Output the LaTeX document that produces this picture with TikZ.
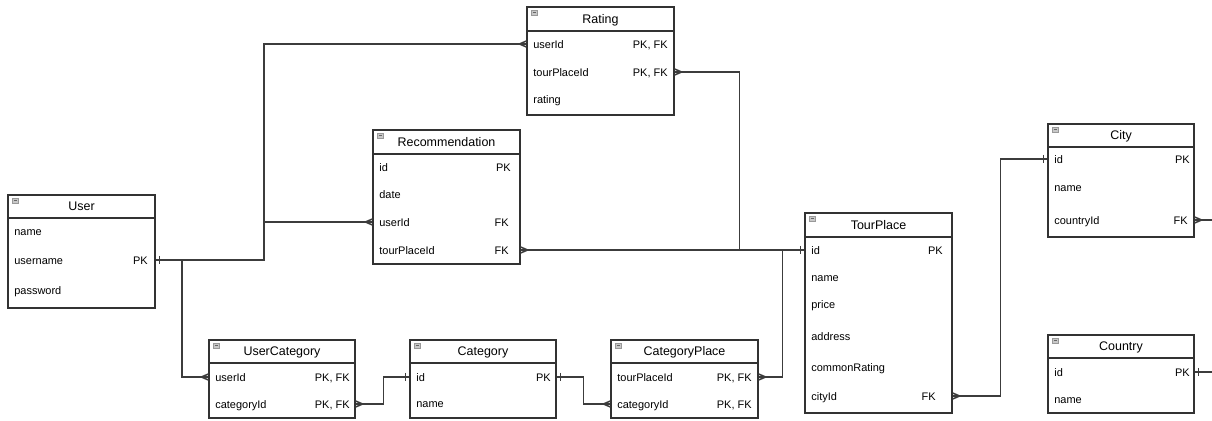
\documentclass[tikz,border=0pt]{standalone}
\usepackage{fontspec}
\setmainfont{Liberation Sans}
\usetikzlibrary{positioning,fit,calc}
\definecolor{erLine}{RGB}{60,60,60}
\definecolor{erBorder}{RGB}{50,50,50}
\definecolor{erIcon}{RGB}{200,200,200}

\begin{document}
\begin{tikzpicture}[
    x=0.02cm, y=-0.02cm,
    tbl/.style={rectangle, draw=erBorder, line width=0.7pt, fill=white, inner sep=0pt},
    head/.style={rectangle, draw=erBorder, line width=0.7pt, inner sep=0pt},
    title/.style={inner sep=0pt, text height=5.2pt, text depth=0.2pt, font=\fontsize{7.1pt}{8pt}\selectfont},
    fld/.style={anchor=west, inner sep=0pt, text height=5.2pt, text depth=0.4pt, font=\fontsize{6.24pt}{7pt}\selectfont},
    key/.style={fld, anchor=east},
    icon/.style={rectangle, draw=gray!80, fill=erIcon, line width=0.3pt, minimum width=0.12cm, minimum height=0.1cm, inner sep=0pt,
        path picture={\draw[black!60, line width=0.4pt] ([xshift=0.7pt]path picture bounding box.west) -- ([xshift=-0.7pt]path picture bounding box.east);}},
    link/.style={draw=erLine, line width=0.85pt},
    crowW/.pic={\draw[link] (-7,0) -- (0,-3) (-7,0) -- (0,3);},
    crowE/.pic={\draw[link] (7,0) -- (0,-3) (7,0) -- (0,3);},
    oneW/.pic={\draw[link] (-4,-4) -- (-4,4);},
    oneE/.pic={\draw[link] (4,-4) -- (4,4);}
]
\useasboundingbox[fill=white] (0,0) rectangle (1212,421);

% User
\node[tbl, fit={(8,195) (155,308)}] (user) {};
\node[head, fit={(8,195) (155,218)}] (user-head) {};
\node[title] (user-title) at (user-head) {User};
\node[icon] (user-icon) at ($(user.north west)+(8,6)$) {};
\node[fld] (user-name) at (14,231) {name};
\node[fld] (user-username) at (14,260) {username};
\node[key] (user-username-k) at (148,260) {PK};
\node[fld] (user-password) at (14,290) {password};

% Rating
\node[tbl, fit={(527,7) (674,115)}] (rating) {};
\node[head, fit={(527,7) (674,31)}] (rating-head) {};
\node[title] (rating-title) at (rating-head) {Rating};
\node[icon] (rating-icon) at ($(rating.north west)+(8,6)$) {};
\node[fld] (rating-userid) at (533,44) {userId};
\node[key] (rating-userid-k) at (668,44) {PK, FK};
\node[fld] (rating-tourplaceid) at (533,72) {tourPlaceId};
\node[key] (rating-tourplaceid-k) at (668,72) {PK, FK};
\node[fld] (rating-rating) at (533,99) {rating};

% Recommendation
\node[tbl, fit={(373,130) (520,264)}] (rec) {};
\node[head, fit={(373,130) (520,154)}] (rec-head) {};
\node[title] (rec-title) at (rec-head) {Recommendation};
\node[icon] (rec-icon) at ($(rec.north west)+(8,6)$) {};
\node[fld] (rec-id) at (379,167) {id};
\node[key] (rec-id-k) at (511,167) {PK};
\node[fld] (rec-date) at (379,194) {date};
\node[fld] (rec-userid) at (379,222) {userId};
\node[key] (rec-userid-k) at (509,222) {FK};
\node[fld] (rec-tourplaceid) at (379,250) {tourPlaceId};
\node[key] (rec-tourplaceid-k) at (509,250) {FK};

% TourPlace
\node[tbl, fit={(805,213) (952,413)}] (tp) {};
\node[head, fit={(805,213) (952,237)}] (tp-head) {};
\node[title] (tp-title) at (tp-head) {TourPlace};
\node[icon] (tp-icon) at ($(tp.north west)+(8,6)$) {};
\node[fld] (tp-id) at (811,250) {id};
\node[key] (tp-id-k) at (943,250) {PK};
\node[fld] (tp-name) at (811,277) {name};
\node[fld] (tp-price) at (811,304) {price};
\node[fld] (tp-address) at (811,336) {address};
\node[fld] (tp-commonrating) at (811,367) {commonRating};
\node[fld] (tp-cityid) at (811,396) {cityId};
\node[key] (tp-cityid-k) at (936,396) {FK};

% City
\node[tbl, fit={(1048,124) (1194,237)}] (city) {};
\node[head, fit={(1048,124) (1194,147)}] (city-head) {};
\node[title] (city-title) at (city-head) {City};
\node[icon] (city-icon) at ($(city.north west)+(8,6)$) {};
\node[fld] (city-id) at (1054,159) {id};
\node[key] (city-id-k) at (1190,159) {PK};
\node[fld] (city-name) at (1054,187) {name};
\node[fld] (city-countryid) at (1054,220) {countryId};
\node[key] (city-countryid-k) at (1188,220) {FK};

% Country
\node[tbl, fit={(1048,335) (1194,413)}] (country) {};
\node[head, fit={(1048,335) (1194,358)}] (country-head) {};
\node[title] (country-title) at (country-head) {Country};
\node[icon] (country-icon) at ($(country.north west)+(8,6)$) {};
\node[fld] (country-id) at (1054,372) {id};
\node[key] (country-id-k) at (1190,372) {PK};
\node[fld] (country-name) at (1054,399) {name};

% UserCategory
\node[tbl, fit={(209,340) (355,418)}] (uc) {};
\node[head, fit={(209,340) (355,363)}] (uc-head) {};
\node[title] (uc-title) at (uc-head) {UserCategory};
\node[icon] (uc-icon) at ($(uc.north west)+(8,6)$) {};
\node[fld] (uc-userid) at (215,377) {userId};
\node[key] (uc-userid-k) at (350,377) {PK, FK};
\node[fld] (uc-categoryid) at (215,404) {categoryId};
\node[key] (uc-categoryid-k) at (350,404) {PK, FK};

% Category
\node[tbl, fit={(410,340) (556,418)}] (cat) {};
\node[head, fit={(410,340) (556,363)}] (cat-head) {};
\node[title] (cat-title) at (cat-head) {Category};
\node[icon] (cat-icon) at ($(cat.north west)+(8,6)$) {};
\node[fld] (cat-id) at (416,377) {id};
\node[key] (cat-id-k) at (551,377) {PK};
\node[fld] (cat-name) at (416,403) {name};

% CategoryPlace
\node[tbl, fit={(611,340) (758,418)}] (cp) {};
\node[head, fit={(611,340) (758,363)}] (cp-head) {};
\node[title] (cp-title) at (cp-head) {CategoryPlace};
\node[icon] (cp-icon) at ($(cp.north west)+(8,6)$) {};
\node[fld] (cp-tourplaceid) at (617,377) {tourPlaceId};
\node[key] (cp-tourplaceid-k) at (752,377) {PK, FK};
\node[fld] (cp-categoryid) at (617,404) {categoryId};
\node[key] (cp-categoryid-k) at (752,404) {PK, FK};

% relations
\coordinate (user-trunk) at (264,260);
\coordinate (user-drop) at (182,260);
\coordinate (city-out) at (1212,220);
\coordinate (country-out) at (1212,372);
\draw[link] (user-username -| user.east) -- (user-trunk) |- (rating-userid -| rating.west);
\draw[link] (user-trunk |- rec-userid) -- (rec-userid -| rec.west);
\draw[link] (user-drop) |- (uc-userid -| uc.west);
\draw[link] (uc-categoryid -| uc.east) -- ++(28,0) |- (cat-id -| cat.west);
\draw[link] (cat-id -| cat.east) -- ++(27,0) |- (cp-categoryid -| cp.west);
\draw[link] (cp-tourplaceid -| cp.east) -- ++(24,0) |- (tp-id -| tp.west);
\draw[link] (rec-tourplaceid -| rec.east) -- (tp-id -| tp.west);
\draw[link] (rating-tourplaceid -| rating.east) -- ++(65,0) |- (tp-id -| tp.west);
\draw[link] (tp-cityid -| tp.east) -- ++(48,0) |- (city-id -| city.west);
\draw[link] (city-countryid -| city.east) -- (city-out);
\draw[link] (country-id -| country.east) -- (country-out);

% ends
\path (rating-userid -| rating.west) pic {crowW};
\path (rec-userid -| rec.west) pic {crowW};
\path (uc-userid -| uc.west) pic {crowW};
\path (cp-categoryid -| cp.west) pic {crowW};
\path (uc-categoryid -| uc.east) pic {crowE};
\path (cp-tourplaceid -| cp.east) pic {crowE};
\path (rec-tourplaceid -| rec.east) pic {crowE};
\path (rating-tourplaceid -| rating.east) pic {crowE};
\path (tp-cityid -| tp.east) pic {crowE};
\path (city-countryid -| city.east) pic {crowE};
\path (user-username -| user.east) pic {oneE};
\path (cat-id -| cat.east) pic {oneE};
\path (country-id -| country.east) pic {oneE};
\path (cat-id -| cat.west) pic {oneW};
\path (tp-id -| tp.west) pic {oneW};
\path (city-id -| city.west) pic {oneW};
\end{tikzpicture}
\end{document}
